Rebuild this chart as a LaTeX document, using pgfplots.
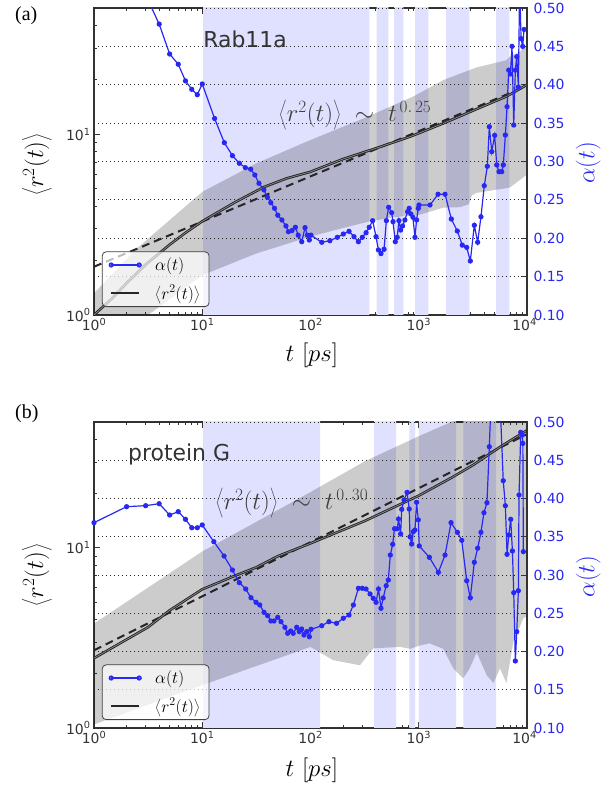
\documentclass[border=0pt]{standalone}
\usepackage{fontspec}
\setmainfont{DejaVu Sans}
\newfontfamily\serifpanel{Liberation Serif}
\usepackage{pgfplots}
\usepackage{pgfplotstable}
\pgfplotsset{compat=1.18}
\definecolor{bandblue}{RGB}{224,224,255}
\definecolor{lineblue}{RGB}{40,40,245}
\definecolor{txtgray}{RGB}{51,51,51}
\pgfplotsset{legend image code/.code={\draw[mark repeat=2,mark phase=1,#1] plot coordinates {(0bp,0bp) (14bp,0bp) (28bp,0bp)};}}

% ---------- data ----------
\pgfplotstableread{
t v
1 1.0
1.5 1.25
2 1.5
3 1.9
5 2.45
7 2.85
10 3.3
15 3.8
20 4.2
37 5.1
60 5.7
100 6.2
200 7.3
410 8.4
830 9.7
1690 11.5
3430 13.8
6460 16.2
10000 18.8
}\solidA
\pgfplotstableread{
t v
1 2.44
2 3.1
3.16 3.63
5 4.5
10 5.89
20 7.0
31.6 7.8
50 9.0
100 10.6
316 14.1
1000 19.5
2000 24.5
3162 28.8
5623 36.3
10000 45
}\solidB
\pgfplotstableread{
t a
3 0.517
4 0.479
5 0.440
6 0.4267
7 0.405
8 0.394
9 0.387
10 0.401
13 0.356
16 0.3245
19 0.3076
22 0.2977
25 0.292
28 0.290
30.6 0.2824
33.4 0.2716
37.1 0.263
40 0.2534
43 0.2463
46.5 0.239
49.8 0.230
54.4 0.2238
59.3 0.216
62.5 0.2085
67.5 0.210
72.5 0.2143
77 0.204
83 0.1955
89 0.2138
93.5 0.204
97.5 0.1977
101 0.204
127 0.1947
151 0.1968
177 0.2012
201 0.2055
227 0.209
252 0.202
277 0.1955
301 0.2012
326 0.2072
349 0.2143
375 0.2229
403 0.202
424 0.1847
448 0.180
478 0.1856
502 0.2229
527 0.2403
562 0.2333
578 0.2216
607 0.1955
632 0.2012
656 0.2229
680 0.2107
709 0.216
745 0.2238
788 0.2346
816 0.239
846 0.2316
883 0.2273
922 0.2012
955 0.2238
990 0.239
1005 0.2433
1270 0.2433
1507 0.2573
1749 0.2573
2000 0.225
2270 0.2094
2525 0.191
2773 0.188
2994 0.1704
3260 0.2169
3500 0.1947
3755 0.228
4030 0.2685
4300 0.2937
4485 0.3453
4720 0.3128
5025 0.334
5250 0.2955
5510 0.2867
5840 0.2867
6040 0.2955
6310 0.3345
6540 0.3714
6780 0.419
7020 0.414
7270 0.450
7540 0.3475
7800 0.419
8040 0.4365
8320 0.397
8550 0.53
8810 0.46
9120 0.45
9380 0.472
}\alphaA
\pgfplotstableread{
t a
1 0.3684
2 0.3893
3 0.3906
4 0.3932
5 0.3784
6 0.3828
7 0.3728
8 0.3618
9 0.3618
10 0.3654
12.8 0.3435
15.9 0.3248
19 0.3065
22 0.290
25.2 0.2817
28.2 0.2703
31.4 0.2643
34 0.2608
37.2 0.2512
40.2 0.2468
43 0.2399
46 0.2399
49.8 0.2447
53.4 0.239
58 0.2316
61.5 0.2238
65.6 0.2268
69.2 0.2238
74.5 0.2316
78.7 0.226
82.7 0.2294
87 0.2216
92.2 0.226
97.5 0.2193
101 0.2290
127 0.2337
148 0.239
174 0.2368
201 0.2434
227 0.2477
249 0.2608
277 0.2826
301 0.2826
326 0.2817
355 0.2752
380 0.2695
403 0.2643
425 0.2817
448 0.2565
469 0.270
500 0.286
523 0.2935
546 0.3261
574 0.3401
597 0.3605
633 0.3605
650 0.3732
680 0.3536
696 0.3858
730 0.398
780 0.408
816 0.3863
830 0.350
860 0.3405
889 0.3566
922 0.3588
955 0.395
990 0.372
1010 0.338
1253 0.3231
1517 0.3035
1749 0.3261
1987 0.3684
2274 0.3558
2495 0.3453
2773 0.2925
2994 0.2703
3260 0.3166
3500 0.335
3755 0.3558
4000 0.3814
4265 0.3945
4485 0.4677
5100 0.68
6030 0.4233
6310 0.3906
6540 0.327
6780 0.3523
7070 0.3728
7330 0.3314
7540 0.2769
7800 0.1876
8040 0.2259
8320 0.2795
8440 0.4046
8750 0.4865
9050 0.483
9150 0.472
9250 0.3305
}\alphaB

\begin{document}
\begin{tikzpicture}[x=1bp,y=1bp]
\path[use as bounding box] (0,0) rectangle (614,787);

% ================= panel (a) =================
\begin{axis}[at={(94bp,472bp)}, anchor=south west, scale only axis, width=433bp, height=307bp,
    xmode=log, ymode=log, xmin=1, xmax=10000, ymin=1, ymax=50,
    xtick={1,10,100,1000,10000},
    xticklabels={10\textsuperscript{0},10\textsuperscript{1},10\textsuperscript{2},10\textsuperscript{3},\hspace*{-5bp}10\textsuperscript{4}},
    minor xtick={2,3,4,5,6,7,8,9,20,30,40,50,60,70,80,90,200,300,400,500,600,700,800,900,2000,3000,4000,5000,6000,7000,8000,9000},
    ytick={1,10}, yticklabels={10\textsuperscript{0},10\textsuperscript{1}},
    minor ytick={2,3,4,5,6,7,8,9,20,30,40},
    xtick pos=both, ytick pos=left, tick align=inside,
    major tick length=6bp, minor tick length=3.5bp,
    tick style={black!80, line width=0.8bp},
    axis line style={black!80, line width=1.2bp},
    xticklabel style={font=\fontsize{14}{16}\selectfont, text=txtgray},
    yticklabel style={font=\fontsize{14}{16}\selectfont, text=txtgray},
    xlabel={$t\ [ps]$}, ylabel={$\left\langle r^2(t)\right\rangle$},
    xlabel style={at={(axis description cs:0.503,-0.13)}, anchor=center, font=\fontsize{24}{28}\selectfont},
    ylabel style={at={(axis description cs:-0.132,0.49)}, anchor=center, font=\fontsize{27}{31}\selectfont},
  ]
\addplot[fill=bandblue, draw=none] coordinates {(10.2,0.5) (349,0.5) (349,100) (10.2,100) (10.2,0.5)};
\addplot[fill=bandblue, draw=none] coordinates {(409,0.5) (523,0.5) (523,100) (409,100) (409,0.5)};
\addplot[fill=bandblue, draw=none] coordinates {(591,0.5) (720,0.5) (720,100) (591,100) (591,0.5)};
\addplot[fill=bandblue, draw=none] coordinates {(923,0.5) (1225,0.5) (1225,100) (923,100) (923,0.5)};
\addplot[fill=bandblue, draw=none] coordinates {(1786,0.5) (2930,0.5) (2930,100) (1786,100) (1786,0.5)};
\addplot[fill=bandblue, draw=none] coordinates {(5170,0.5) (6870,0.5) (6870,100) (5170,100) (5170,0.5)};
\addplot[fill=black, fill opacity=0.2, draw=none] coordinates {(1,1.32) (2.5,2.34) (10,4.8) (31.6,6.9) (100,9.3) (316,12.3) (891,16.2) (1700,20.0) (3390,23.4) (6460,25.7) (6920,26.9) (8700,28.8) (10000,30.9)
 (10000,6.0) (8710,5.62) (6920,5.07) (5250,4.94) (3430,4.74) (3100,4.6) (2900,4.1) (2400,3.95) (1700,3.93) (1023,3.59) (575,3.47) (355,3.30) (200,3.03) (100,2.72) (31.6,2.19) (10,1.66) (3.16,1.0) (1,0.56) (1,1.32)};
\addplot[black!85, line width=2bp, dash pattern=on 8bp off 5bp] coordinates {(1,1.85) (10000,18.5)};
\addplot[black!85, line width=2.6bp] table[x=t,y=v] {\solidA};
\addplot[black!45, line width=0.7bp] table[x=t,y=v] {\solidA};
\node[anchor=base west, inner sep=0pt, font=\fontsize{22}{26}\selectfont, text=txtgray] at (rel axis cs:0.252,0.87) {Rab11a};
\node[font=\fontsize{27}{31}\selectfont, text=black!75] at (rel axis cs:0.603,0.651) {$\left\langle r^2(t)\right\rangle \;\sim\; t^{\,0.\,25}$};
\end{axis}
\begin{axis}[at={(94bp,472bp)}, anchor=south west, scale only axis, width=433bp, height=307bp,
    xmode=log, xmin=1, xmax=10000, ymin=0.1, ymax=0.5,
    hide x axis, axis y line*=right,
    ytick={0.10,0.15,0.20,0.25,0.30,0.35,0.40,0.45,0.50},
    tick align=inside, major tick length=6bp,
    tick style={black!80, line width=0.8bp},
    axis line style={black!80, line width=1.2bp},
    ymajorgrids, major grid style={black!85, line width=0.8bp, dash pattern=on 1bp off 3bp},
    yticklabel style={font=\fontsize{14}{16}\selectfont, text=lineblue, xshift=3bp,
      /pgf/number format/fixed, /pgf/number format/fixed zerofill, /pgf/number format/precision=2,
      /pgf/number format/assume math mode=true},
    ylabel={$\alpha(t)$},
    ylabel style={at={(axis description cs:1.141,0.495)}, anchor=center, font=\fontsize{24}{28}\selectfont, text=lineblue},
    legend style={at={(0.018,0.026)}, anchor=south west, fill=white, fill opacity=0.7, text opacity=1,
      draw=black!75, line width=0.8bp, rounded corners=4bp, inner xsep=7bp, inner ysep=4bp,
      font=\fontsize{18}{21}\selectfont, row sep=9bp,
      /tikz/every odd column/.append style={column sep=12bp}},
    legend cell align=left,
  ]
\addplot[lineblue, line width=1.2bp, mark=*, mark size=2bp, mark options={fill=lineblue, draw=lineblue}] table[x=t,y=a] {\alphaA};
\addlegendentry{$\alpha(t)$}
\addlegendimage{black!85, line width=2.6bp}
\addlegendentry{$\left\langle r^2(t)\right\rangle$}
\end{axis}

% ================= panel (b) =================
\begin{axis}[at={(94bp,59bp)}, anchor=south west, scale only axis, width=433bp, height=306bp,
    xmode=log, ymode=log, xmin=1, xmax=10000, ymin=1, ymax=50,
    xtick={1,10,100,1000,10000},
    xticklabels={10\textsuperscript{0},10\textsuperscript{1},10\textsuperscript{2},10\textsuperscript{3},\hspace*{-5bp}10\textsuperscript{4}},
    minor xtick={2,3,4,5,6,7,8,9,20,30,40,50,60,70,80,90,200,300,400,500,600,700,800,900,2000,3000,4000,5000,6000,7000,8000,9000},
    ytick={1,10}, yticklabels={10\textsuperscript{0},10\textsuperscript{1}},
    minor ytick={2,3,4,5,6,7,8,9,20,30,40},
    xtick pos=both, ytick pos=left, tick align=inside,
    major tick length=6bp, minor tick length=3.5bp,
    tick style={black!80, line width=0.8bp},
    axis line style={black!80, line width=1.2bp},
    xticklabel style={font=\fontsize{14}{16}\selectfont, text=txtgray},
    yticklabel style={font=\fontsize{14}{16}\selectfont, text=txtgray},
    xlabel={$t\ [ps]$}, ylabel={$\left\langle r^2(t)\right\rangle$},
    xlabel style={at={(axis description cs:0.503,-0.137)}, anchor=center, font=\fontsize{24}{28}\selectfont},
    ylabel style={at={(axis description cs:-0.132,0.5)}, anchor=center, font=\fontsize{27}{31}\selectfont},
  ]
\addplot[fill=bandblue, draw=none] coordinates {(10.2,0.5) (123,0.5) (123,100) (10.2,100) (10.2,0.5)};
\addplot[fill=bandblue, draw=none] coordinates {(386,0.5) (617,0.5) (617,100) (386,100) (386,0.5)};
\addplot[fill=bandblue, draw=none] coordinates {(818,0.5) (923,0.5) (923,100) (818,100) (818,0.5)};
\addplot[fill=bandblue, draw=none] coordinates {(1000,0.5) (2210,0.5) (2210,100) (1000,100) (1000,0.5)};
\addplot[fill=bandblue, draw=none] coordinates {(2580,0.5) (5170,0.5) (5170,100) (2580,100) (2580,0.5)};
\addplot[fill=black, fill opacity=0.2, draw=none] coordinates {(1,3.8) (10,9.55) (100,20.4) (316,30.2) (1000,41.7) (2000,50) (10000,79)
 (10000,4.17) (9247,4.07) (7464,2.99) (6457,1.78) (5623,2.14) (4898,1.78) (4266,1.95) (3428,2.63) (2951,2.14) (2570,1.89) (2089,2.14) (1687,2.75) (1259,2.95) (1023,2.87) (832,2.75) (676,2.82) (380,2.77) (286,2.23) (162,2.38) (100,2.82) (10,1.73) (1,1.047) (1,3.8)};
\addplot[black!85, line width=2bp, dash pattern=on 8bp off 5bp] coordinates {(1,2.7) (10000,42.8)};
\addplot[black!85, line width=2.6bp] table[x=t,y=v] {\solidB};
\addplot[black!45, line width=0.7bp] table[x=t,y=v] {\solidB};
\node[anchor=base west, inner sep=0pt, font=\fontsize{22}{26}\selectfont, text=txtgray] at (rel axis cs:0.0785,0.873) {protein G};
\node[font=\fontsize{27}{31}\selectfont, text=black!75] at (rel axis cs:0.457,0.735) {$\left\langle r^2(t)\right\rangle \;\sim\; t^{\,0.\,30}$};
\end{axis}
\begin{axis}[at={(94bp,59bp)}, anchor=south west, scale only axis, width=433bp, height=306bp,
    xmode=log, xmin=1, xmax=10000, ymin=0.1, ymax=0.5,
    hide x axis, axis y line*=right,
    ytick={0.10,0.15,0.20,0.25,0.30,0.35,0.40,0.45,0.50},
    tick align=inside, major tick length=6bp,
    tick style={black!80, line width=0.8bp},
    axis line style={black!80, line width=1.2bp},
    ymajorgrids, major grid style={black!85, line width=0.8bp, dash pattern=on 1bp off 3bp},
    yticklabel style={font=\fontsize{14}{16}\selectfont, text=lineblue, xshift=3bp,
      /pgf/number format/fixed, /pgf/number format/fixed zerofill, /pgf/number format/precision=2,
      /pgf/number format/assume math mode=true},
    ylabel={$\alpha(t)$},
    ylabel style={at={(axis description cs:1.141,0.495)}, anchor=center, font=\fontsize{24}{28}\selectfont, text=lineblue},
    legend style={at={(0.018,0.026)}, anchor=south west, fill=white, fill opacity=0.7, text opacity=1,
      draw=black!75, line width=0.8bp, rounded corners=4bp, inner xsep=7bp, inner ysep=4bp,
      font=\fontsize{18}{21}\selectfont, row sep=9bp,
      /tikz/every odd column/.append style={column sep=12bp}},
    legend cell align=left,
  ]
\addplot[lineblue, line width=1.2bp, mark=*, mark size=2bp, mark options={fill=lineblue, draw=lineblue}] table[x=t,y=a] {\alphaB};
\addlegendentry{$\alpha(t)$}
\addlegendimage{black!85, line width=2.6bp}
\addlegendentry{$\left\langle r^2(t)\right\rangle$}
\end{axis}

\node[anchor=base west, inner sep=0pt, font=\serifpanel\fontsize{20}{24}\selectfont] at (15,766) {(a)};
\node[anchor=base west, inner sep=0pt, font=\serifpanel\fontsize{20}{24}\selectfont] at (15,368) {(b)};
\end{tikzpicture}
\end{document}
